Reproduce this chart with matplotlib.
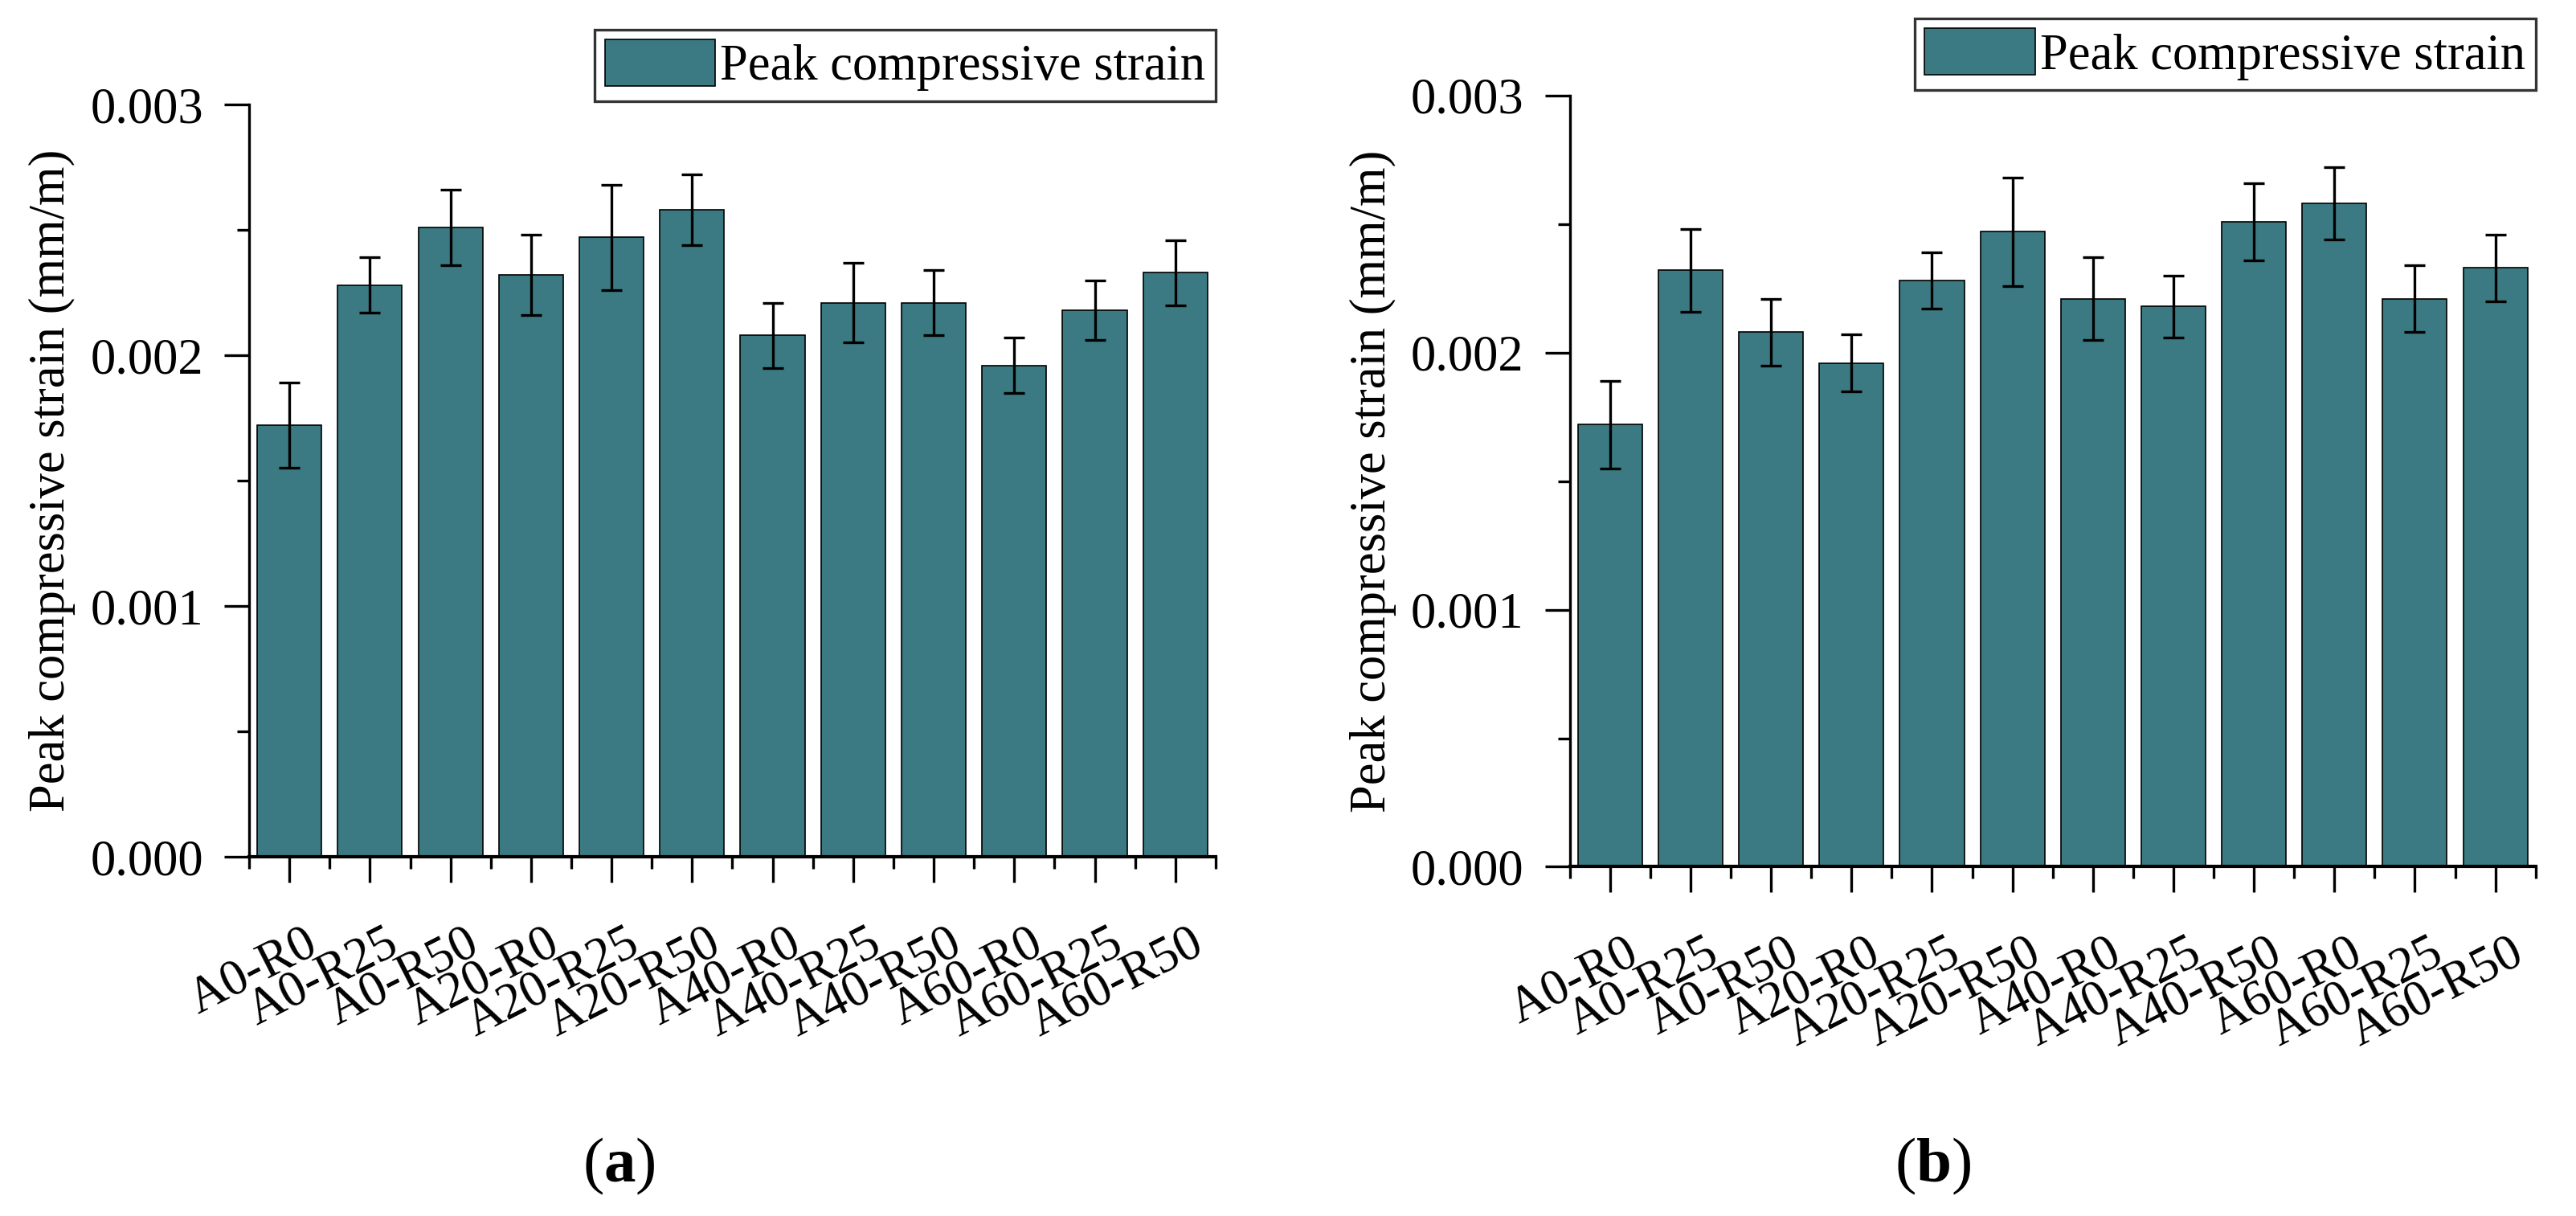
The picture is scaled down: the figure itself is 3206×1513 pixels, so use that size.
import numpy as np
import matplotlib.pyplot as plt
from matplotlib.ticker import MultipleLocator, FormatStrFormatter
from matplotlib.transforms import ScaledTranslation

plt.rcParams['font.family'] = 'Liberation Serif'
plt.rcParams['mathtext.fontset'] = 'custom'
plt.rcParams['mathtext.rm'] = 'Liberation Serif'
plt.rcParams['mathtext.bf'] = 'Liberation Serif:bold'

labels = ['A0-R0', 'A0-R25', 'A0-R50', 'A20-R0', 'A20-R25', 'A20-R50',
          'A40-R0', 'A40-R25', 'A40-R50', 'A60-R0', 'A60-R25', 'A60-R50']

# panel (a)
strain_a = [0.00172, 0.00228, 0.00251, 0.00232, 0.00247, 0.00258,
            0.00208, 0.00221, 0.00221, 0.00196, 0.00218, 0.00233]
err_a = [0.00017, 0.00011, 0.00015, 0.00016, 0.00021, 0.00014,
         0.00013, 0.00016, 0.00013, 0.00011, 0.00012, 0.00013]

# panel (b)
strain_b = [0.00172, 0.00232, 0.00208, 0.00196, 0.00228, 0.00247,
            0.00221, 0.00218, 0.00251, 0.00258, 0.00221, 0.00233]
err_b = [0.00017, 0.00016, 0.00013, 0.00011, 0.00011, 0.00021,
         0.00016, 0.00012, 0.00015, 0.00014, 0.00013, 0.00013]

bar_color = '#3b7a82'
fs = 15

fig = plt.figure(figsize=(3206 / 300, 1513 / 300), dpi=300)
ax_a = fig.add_axes([0.0967, 0.2954, 0.3752, 0.6186])
ax_b = fig.add_axes([0.6094, 0.2872, 0.3749, 0.6342])


def draw_panel(ax, values, errors):
    x = np.arange(1, len(labels) + 1)
    ax.bar(x, values, width=0.8, color=bar_color, edgecolor='black',
           linewidth=0.4, label='Peak compressive strain', zorder=2)
    ax.errorbar(x, values, yerr=errors, fmt='none', ecolor='black',
                elinewidth=0.8, capsize=3.2, capthick=0.8, zorder=3)
    ax.set_xlim(0.5, 12.5)
    ax.set_ylim(0, 0.003)

    for side in ['top', 'right']:
        ax.spines[side].set_visible(False)
    ax.spines['left'].set_linewidth(0.8)
    ax.spines['bottom'].set_linewidth(1.0)

    ax.yaxis.set_major_locator(MultipleLocator(0.001))
    ax.yaxis.set_minor_locator(MultipleLocator(0.0005))
    ax.yaxis.set_major_formatter(FormatStrFormatter('%.3f'))
    ax.set_xticks(x)
    ax.set_xticks(np.arange(0.5, 12.6, 1), minor=True)
    ax.set_xticklabels(labels, rotation=27, ha='right', va='center',
                       rotation_mode='anchor')

    ax.tick_params(axis='y', which='major', direction='out', length=7.4,
                   width=0.8, labelsize=fs, pad=6.3)
    ax.tick_params(axis='y', which='minor', direction='out', length=3.6, width=0.8)
    ax.tick_params(axis='x', which='major', direction='out', length=7.6,
                   width=0.8, labelsize=fs, pad=17.5)
    ax.tick_params(axis='x', which='minor', direction='out', length=3.6, width=0.8)

    shift = ScaledTranslation(31 / 300, 0, fig.dpi_scale_trans)
    for lab in ax.get_xticklabels():
        lab.set_transform(lab.get_transform() + shift)

    ax.set_ylabel('Peak compressive strain (mm/m)', fontsize=fs, labelpad=4.3)

    leg = ax.legend(loc='upper right', bbox_to_anchor=(1.0, 1.10),
                    borderaxespad=0, fontsize=fs, frameon=True, fancybox=False,
                    edgecolor='black', borderpad=0.2, handlelength=2.2,
                    handleheight=1.05, handletextpad=0.1)
    leg.get_frame().set_linewidth(0.8)


draw_panel(ax_a, strain_a, err_a)
draw_panel(ax_b, strain_b, err_b)

fig.text(0.2402, 0.041, r'($\mathbf{a}$)', fontsize=19, ha='center', va='center')
fig.text(0.7505, 0.041, r'($\mathbf{b}$)', fontsize=19, ha='center', va='center')

fig.savefig('out.png', dpi=300)
